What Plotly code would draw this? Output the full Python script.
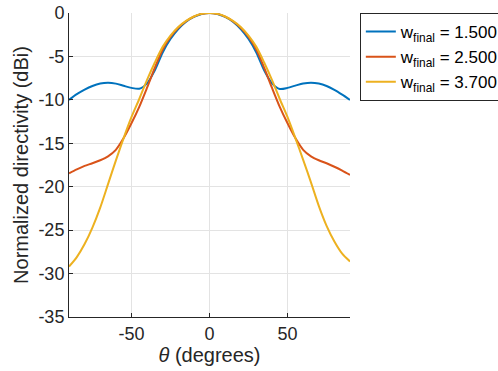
import plotly.graph_objects as go

theta = list(range(-90, 95, 5))

# w_final = 1.5
blue = [-10.0, -9.35, -8.82, -8.4, -8.12, -8.03, -8.13, -8.38, -8.62, -8.72, -8.1, -6.6, -4.55, -3.0, -1.85, -1.0, -0.45, -0.11, 0.0,
        -0.11, -0.45, -1.0, -1.85, -3.0, -4.55, -6.6, -8.1, -8.74, -8.62, -8.36, -8.12, -8.02, -8.12, -8.4, -8.85, -9.4, -10.0]
# w_final = 2.5
orange = [-18.45, -18.0, -17.6, -17.3, -16.95, -16.5, -15.75, -14.4, -12.7, -10.8, -8.6, -6.3, -4.2, -2.75, -1.7, -0.95, -0.42, -0.1, 0.0,
          -0.1, -0.42, -0.95, -1.7, -2.75, -4.2, -6.3, -8.6, -10.8, -12.7, -14.4, -15.75, -16.5, -16.95, -17.3, -17.7, -18.15, -18.65]
# w_final = 3.7
yellow = [-29.2, -28.1, -26.6, -24.7, -22.4, -19.7, -17.0, -14.4, -12.0, -9.9, -7.7, -5.7, -3.9, -2.6, -1.6, -0.9, -0.4, -0.1, 0.0,
          -0.1, -0.4, -0.9, -1.6, -2.6, -3.9, -5.7, -7.7, -9.9, -12.0, -14.4, -16.9, -19.5, -22.2, -24.5, -26.3, -27.7, -28.6]

names = ["w<sub>final</sub> = 1.500", "w<sub>final</sub> = 2.500", "w<sub>final</sub> = 3.700"]
colors = ["#0072BD", "#D95319", "#EDB120"]

ytick_vals = [0, -5, -10, -15, -20, -25, -30, -35]
ytick_text = ["0", "-5", "-10", "-15", "-20", "-25", "-30", "-35"]
xtick_vals = [-50, 0, 50]
xtick_text = ["-50", "0", "50"]

fig = go.Figure()
for ys, n, c in zip([blue, orange, yellow], names, colors):
    fig.add_trace(go.Scatter(x=theta, y=ys, mode="lines", name=n,
                             line=dict(color=c, width=2, shape="spline", smoothing=0.8)))

font = "Liberation Sans, Arial, sans-serif"
axis_common = dict(showline=True, linecolor="#262626", linewidth=1, mirror=False,
                   ticks="inside", ticklen=4, tickcolor="#262626",
                   showgrid=True, gridcolor="#e3e3e3", gridwidth=1, zeroline=False,
                   tickfont=dict(size=18, color="#262626", family=font))

fig.update_layout(
    width=498, height=371,
    margin=dict(l=69, r=148, t=13, b=54, autoexpand=False),
    paper_bgcolor="white", plot_bgcolor="white",
    font=dict(family=font, color="#262626", size=18),
    xaxis=dict(range=[-90, 90], tickvals=xtick_vals, ticktext=xtick_text,
               title=dict(text="<i>θ</i> (degrees)", font=dict(size=20), standoff=2), **axis_common),
    yaxis=dict(range=[-35, 0], tickvals=ytick_vals, ticktext=ytick_text,
               title=dict(text="Normalized directivity (dBi)", font=dict(size=20), standoff=4), **axis_common),
    legend=dict(x=1.035, y=1.0, xanchor="left", yanchor="top",
                bordercolor="#262626", borderwidth=1, bgcolor="white",
                font=dict(size=17, color="#000000", family=font),
                tracegroupgap=0, itemwidth=30),
    showlegend=True,
)

fig.write_html("out.html")
